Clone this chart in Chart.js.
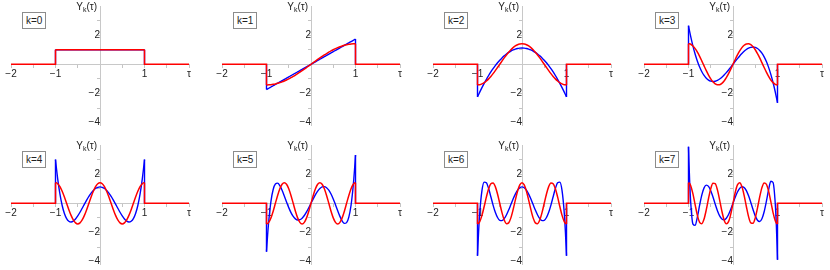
<!DOCTYPE html>
<html>
<head>
<meta charset="utf-8">
<script src="https://cdn.jsdelivr.net/npm/chart.js@4.4.1/dist/chart.umd.min.js"></script>
<style>
  body { margin: 0; background: #fff; }
  #wrap { position: relative; width: 830px; height: 270px; overflow: hidden; background: #fff; }
  .panel { position: absolute; width: 211px; height: 139px; }
  .panel canvas { position: absolute; left: 0; top: 0; }
  .klab { position: absolute; left: 22px; top: 12px; padding: 2px 3px; line-height: 12px;
          border: 1px solid #8c8c8c; background: #fff; color: #222;
          font: 10px "Liberation Sans", Arial, sans-serif; }
  .ylab { position: absolute; left: 0; top: 1px; width: 97px; text-align: right; color: #222;
          font: 10px "Liberation Sans", Arial, sans-serif; line-height: 12px; }
  .ylab sub { font-size: 7px; vertical-align: -2px; line-height: 0; }
</style>
</head>
<body>
<div id="wrap"></div>
<script>
// sample points of tau inside the support [-1, 1]
const tau = [-1, -0.99, -0.975, -0.95, -0.9, -0.85, -0.8, -0.75, -0.7, -0.65, -0.6, -0.55, -0.5, -0.45, -0.4, -0.35, -0.3, -0.25, -0.2, -0.15, -0.1, -0.05,
  0, 0.05, 0.1, 0.15, 0.2, 0.25, 0.3, 0.35, 0.4, 0.45, 0.5, 0.55, 0.6, 0.65, 0.7, 0.75, 0.8, 0.85, 0.9, 0.95, 0.975, 0.99, 1];

const domain = [-2, 2];
const support = [-1, 1];

// blue curves
const blue0 = [1, 1, 1, 1, 1, 1, 1, 1, 1, 1, 1, 1, 1, 1, 1, 1, 1, 1, 1, 1, 1, 1, 1, 1, 1, 1, 1, 1, 1, 1, 1, 1, 1, 1, 1, 1, 1, 1, 1, 1, 1, 1, 1, 1, 1];
const blue1 = [-1.732, -1.715, -1.689, -1.645, -1.559, -1.472, -1.386, -1.299, -1.212, -1.126, -1.039, -0.953, -0.866, -0.779, -0.693, -0.606, -0.520, -0.433, -0.346, -0.260, -0.173, -0.087,
  0, 0.087, 0.173, 0.260, 0.346, 0.433, 0.520, 0.606, 0.693, 0.779, 0.866, 0.953, 1.039, 1.126, 1.212, 1.299, 1.386, 1.472, 1.559, 1.645, 1.689, 1.715, 1.732];
const blue2 = [-2.236, -2.169, -2.070, -1.909, -1.599, -1.305, -1.029, -0.769, -0.526, -0.299, -0.089, 0.103, 0.280, 0.439, 0.581, 0.707, 0.816, 0.908, 0.984, 1.043, 1.085, 1.110,
  1.118, 1.110, 1.085, 1.043, 0.984, 0.908, 0.816, 0.707, 0.581, 0.439, 0.280, 0.103, -0.089, -0.299, -0.526, -0.769, -1.029, -1.305, -1.599, -1.909, -2.070, -2.169, -2.236];
const blue3 = [2.646, 2.489, 2.261, 1.901, 1.250, 0.689, 0.212, -0.186, -0.509, -0.763, -0.953, -1.082, -1.158, -1.183, -1.164, -1.105, -1.012, -0.889, -0.741, -0.573, -0.390, -0.198,
  0, 0.198, 0.390, 0.573, 0.741, 0.889, 1.012, 1.105, 1.164, 1.183, 1.158, 1.082, 0.953, 0.763, 0.509, 0.186, -0.212, -0.689, -1.250, -1.901, -2.261, -2.489, -2.646];
const blue4 = [3.000, 2.707, 2.291, 1.662, 0.624, -0.152, -0.699, -1.050, -1.236, -1.285, -1.224, -1.077, -0.867, -0.615, -0.339, -0.056, 0.219, 0.473, 0.696, 0.879, 1.014, 1.097,
  1.125, 1.097, 1.014, 0.879, 0.696, 0.473, 0.219, -0.056, -0.339, -0.615, -0.867, -1.077, -1.224, -1.285, -1.236, -1.050, -0.699, -0.152, 0.624, 1.662, 2.291, 2.707, 3.000];
const blue5 = [-3.317, -2.836, -2.178, -1.236, 0.136, 0.948, 1.325, 1.381, 1.211, 0.897, 0.506, 0.094, -0.298, -0.636, -0.898, -1.069, -1.146, -1.127, -1.020, -0.837, -0.593, -0.307,
  0, 0.307, 0.593, 0.837, 1.020, 1.127, 1.146, 1.069, 0.898, 0.636, 0.298, -0.094, -0.506, -0.897, -1.211, -1.381, -1.325, -0.948, -0.136, 1.236, 2.178, 2.836, 3.317];
const blue6 = [-3.606, -2.886, -1.938, -0.676, 0.870, 1.453, 1.413, 1.012, 0.452, -0.125, -0.621, -0.976, -1.166, -1.186, -1.055, -0.802, -0.466, -0.088, 0.291, 0.630, 0.897, 1.068,
  1.127, 1.068, 0.897, 0.630, 0.291, -0.088, -0.466, -0.802, -1.055, -1.186, -1.166, -0.976, -0.621, -0.125, 0.452, 1.012, 1.413, 1.453, 0.870, -0.676, -1.938, -2.886, -3.606];
const blue7 = [3.873, 2.860, 1.589, 0.043, -1.425, -1.516, -0.928, -0.132, 0.582, 1.060, 1.250, 1.165, 0.864, 0.428, -0.057, -0.510, -0.868, -1.084, -1.137, -1.026, -0.773, -0.414,
  0, 0.414, 0.773, 1.026, 1.137, 1.084, 0.868, 0.510, 0.057, -0.428, -0.864, -1.165, -1.250, -1.060, -0.582, 0.132, 0.928, 1.516, 1.425, -0.043, -1.589, -2.860, -3.873];

// red curves
const red0 = [1, 1, 1, 1, 1, 1, 1, 1, 1, 1, 1, 1, 1, 1, 1, 1, 1, 1, 1, 1, 1, 1, 1, 1, 1, 1, 1, 1, 1, 1, 1, 1, 1, 1, 1, 1, 1, 1, 1, 1, 1, 1, 1, 1, 1];
const red1 = [-1.414, -1.414, -1.413, -1.410, -1.397, -1.375, -1.345, -1.307, -1.260, -1.206, -1.144, -1.075, -1.000, -0.918, -0.831, -0.739, -0.642, -0.541, -0.437, -0.330, -0.221, -0.111,
  0, 0.111, 0.221, 0.330, 0.437, 0.541, 0.642, 0.739, 0.831, 0.918, 1.000, 1.075, 1.144, 1.206, 1.260, 1.307, 1.345, 1.375, 1.397, 1.410, 1.413, 1.414, 1.414];
const red2 = [-1.414, -1.414, -1.410, -1.397, -1.345, -1.260, -1.144, -1.000, -0.831, -0.642, -0.437, -0.221, 0, 0.221, 0.437, 0.642, 0.831, 1.000, 1.144, 1.260, 1.345, 1.397,
  1.414, 1.397, 1.345, 1.260, 1.144, 1.000, 0.831, 0.642, 0.437, 0.221, 0, -0.221, -0.437, -0.642, -0.831, -1.000, -1.144, -1.260, -1.345, -1.397, -1.410, -1.414, -1.414];
const red3 = [1.414, 1.413, 1.404, 1.375, 1.260, 1.075, 0.831, 0.541, 0.221, -0.111, -0.437, -0.739, -1.000, -1.206, -1.345, -1.410, -1.397, -1.307, -1.144, -0.918, -0.642, -0.330,
  0, 0.330, 0.642, 0.918, 1.144, 1.307, 1.397, 1.410, 1.345, 1.206, 1.000, 0.739, 0.437, 0.111, -0.221, -0.541, -0.831, -1.075, -1.260, -1.375, -1.404, -1.413, -1.414];
const red4 = [1.414, 1.411, 1.397, 1.345, 1.144, 0.831, 0.437, 0, -0.437, -0.831, -1.144, -1.345, -1.414, -1.345, -1.144, -0.831, -0.437, 0, 0.437, 0.831, 1.144, 1.345,
  1.414, 1.345, 1.144, 0.831, 0.437, 0, -0.437, -0.831, -1.144, -1.345, -1.414, -1.345, -1.144, -0.831, -0.437, 0, 0.437, 0.831, 1.144, 1.345, 1.397, 1.411, 1.414];
const red5 = [-1.414, -1.410, -1.387, -1.307, -1.000, -0.541, 0, 0.541, 1.000, 1.307, 1.414, 1.307, 1.000, 0.541, 0, -0.541, -1.000, -1.307, -1.414, -1.307, -1.000, -0.541,
  0, 0.541, 1.000, 1.307, 1.414, 1.307, 1.000, 0.541, 0, -0.541, -1.000, -1.307, -1.414, -1.307, -1.000, -0.541, 0, 0.541, 1.000, 1.307, 1.387, 1.410, 1.414];
const red6 = [-1.414, -1.408, -1.375, -1.260, -0.831, -0.221, 0.437, 1.000, 1.345, 1.397, 1.144, 0.642, 0, -0.642, -1.144, -1.397, -1.345, -1.000, -0.437, 0.221, 0.831, 1.260,
  1.414, 1.260, 0.831, 0.221, -0.437, -1.000, -1.345, -1.397, -1.144, -0.642, 0, 0.642, 1.144, 1.397, 1.345, 1.000, 0.437, -0.221, -0.831, -1.260, -1.375, -1.408, -1.414];
const red7 = [1.414, 1.406, 1.361, 1.206, 0.642, -0.111, -0.831, -1.307, -1.397, -1.075, -0.437, 0.330, 1.000, 1.375, 1.345, 0.918, 0.221, -0.541, -1.144, -1.410, -1.260, -0.739,
  0, 0.739, 1.260, 1.410, 1.144, 0.541, -0.221, -0.918, -1.345, -1.375, -1.000, -0.330, 0.437, 1.075, 1.397, 1.307, 0.831, 0.111, -0.642, -1.206, -1.361, -1.406, -1.414];

const kLabels = ['k=0', 'k=1', 'k=2', 'k=3', 'k=4', 'k=5', 'k=6', 'k=7'];
const xTickValues = [-2, -1, 1, 2];
const xTickText = ['\u22122', '\u22121', '1', '\u03c4'];
const yTickValues = [-4, -2, 2];
const yTickText = ['\u22124', '\u22122', '2'];

const blues = [blue0, blue1, blue2, blue3, blue4, blue5, blue6, blue7];
const reds = [red0, red1, red2, red3, red4, red5, red6, red7];

function curve(vals) {
  return tau.map((t, i) => ({x: t, y: vals[i]}));
}
// zero outside the support, with the jumps at the ends
function steps(vals) {
  const n = vals.length - 1;
  return [
    {x: domain[0], y: 0}, {x: support[0], y: 0}, {x: support[0], y: vals[0]},
    {x: 0, y: null},
    {x: support[1], y: vals[n]}, {x: support[1], y: 0}, {x: domain[1], y: 0}
  ];
}
// only the jumps (the zero parts sit under the red line)
function jumps(vals) {
  const n = vals.length - 1;
  return [
    {x: support[0], y: 0}, {x: support[0], y: vals[0]},
    {x: 0, y: null},
    {x: support[1], y: vals[n]}, {x: support[1], y: 0}
  ];
}

const tickFont = {family: 'Liberation Sans', size: 10, lineHeight: 1};
const wrap = document.getElementById('wrap');

for (let k = 0; k < 8; k++) {
  const col = k % 4, row = Math.floor(k / 4);
  const panel = document.createElement('div');
  panel.className = 'panel';
  panel.style.left = (211 * col) + 'px';
  panel.style.top = (139 * row) + 'px';
  panel.innerHTML = '<canvas width="211" height="139"></canvas>' +
    '<div class="ylab">Y<sub>k</sub>(\u03c4)</div>' +
    '<div class="klab">' + kLabels[k] + '</div>';
  wrap.appendChild(panel);

  new Chart(panel.querySelector('canvas'), {
    type: 'line',
    data: {
      datasets: [
        {data: curve(reds[k]), borderColor: '#ff0000', cubicInterpolationMode: 'monotone'},
        {data: steps(reds[k]), borderColor: '#ff0000', tension: 0},
        {data: curve(blues[k]), borderColor: '#0000ff', borderWidth: 1.4, cubicInterpolationMode: 'monotone'},
        {data: jumps(blues[k]), borderColor: '#0000ff', borderWidth: 1.4, tension: 0}
      ]
    },
    options: {
      responsive: false,
      animation: false,
      events: [],
      layout: {padding: {left: 11, right: 22, top: 6, bottom: 13.5}},
      plugins: {legend: {display: false}, tooltip: {enabled: false}},
      elements: {point: {radius: 0}, line: {borderWidth: 1.5, fill: false}},
      scales: {
        x: {
          type: 'linear', min: domain[0], max: domain[1], position: {y: 0},
          border: {color: '#c8c8c8'},
          grid: {drawOnChartArea: false, tickLength: 3, color: '#c4c4c4'},
          ticks: {
            stepSize: 0.5, autoSkip: false, maxRotation: 0, padding: 2, includeBounds: false,
            font: tickFont, color: '#222',
            callback: v => { const i = xTickValues.indexOf(v); return i < 0 ? '' : xTickText[i]; }
          }
        },
        y: {
          type: 'linear', min: -4.2, max: 4, position: {x: 0},
          border: {color: '#c8c8c8'},
          grid: {drawOnChartArea: false, tickLength: 3, color: '#c4c4c4'},
          ticks: {
            stepSize: 1, autoSkip: false, padding: 0, includeBounds: false,
            font: tickFont, color: '#222',
            callback: v => { if (v === 4) return null; const i = yTickValues.indexOf(v); return i < 0 ? '' : yTickText[i]; }
          }
        }
      }
    }
  });
}
</script>
</body>
</html>
